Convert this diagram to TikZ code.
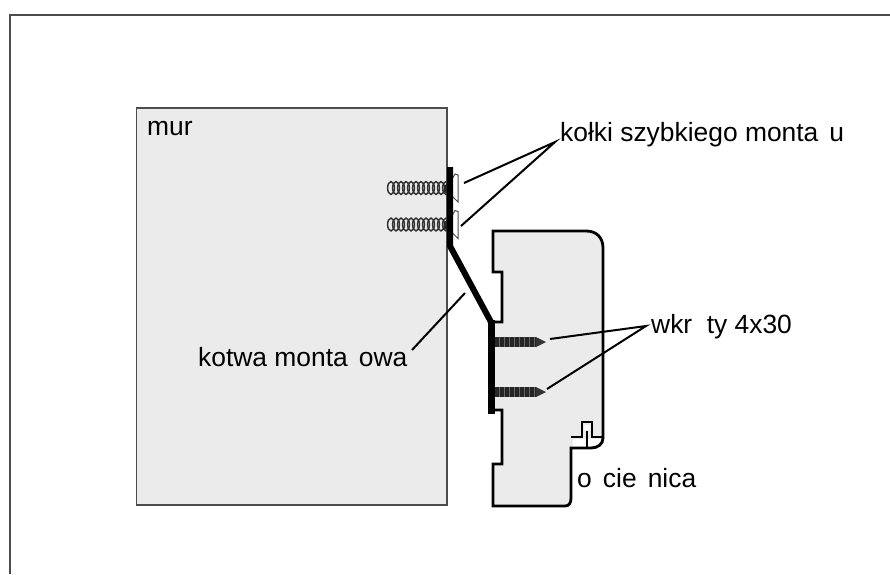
\documentclass[tikz,border=0pt]{standalone}
\usepackage{fontspec}
\setmainfont{Liberation Sans}
\usetikzlibrary{positioning}
\definecolor{wallgray}{gray}{0.92}
\tikzset{
  label/.style={inner sep=0pt, anchor=base west, font=\fontsize{26.4}{30}\selectfont},
  leader/.style={line width=2pt, black},
  anchorplate/.style={line width=6pt, black},
  outline/.style={line width=2.8pt, black, fill=wallgray, line join=miter},
}
\newcommand{\gapletter}{\hspace{0.42em}}
\begin{document}
\begin{tikzpicture}[x=1pt, y=-1pt]
    \useasboundingbox (0,0) rectangle (890,574);
    % Frame
    \draw[line width=2pt, black!70] (10,574) -- (10,14.5) -- (890,14.5);
    % Wall
    \draw[line width=1.6pt, black!70, fill=wallgray] (136.5,108) rectangle (447,505);
    % Door frame
    \draw[outline] (493,231) -- (586,231) .. controls (597,231) and (603,238) .. (603,248)
      -- (603,438) .. controls (603,444) and (598,448) .. (591,448) -- (571,448)
      -- (571,498) .. controls (571,503) and (569,506) .. (565,506) -- (493,506) -- (493,464)
      -- (502,464) -- (502,410) -- (492,410) -- (492,322) -- (502,322) -- (502,272) -- (493,272) -- cycle;
    \fill[white] (573,439) -- (601,439) .. controls (600,443) and (596,446) .. (591,446) -- (573,446) -- cycle;
    \draw[line width=2.6pt, black] (571,437) -- (582,437) -- (582,422) -- (592,422) -- (592,437) -- (603,437);
    \fill[white] (584,425) rectangle (590,430);
    \draw[line width=2pt, black] (587,431) -- (587,447);
    % Wall plugs
    \foreach \ypos in {188,224.5} {
      \foreach \xpos in {391,396,...,446}
        \draw[line width=1.5pt, black!80] (\xpos,\ypos) ellipse (3.4 and 6.4);
      \fill[black!85] (444,\ypos-2) -- (451,\ypos-8) -- (451,\ypos+8) -- (444,\ypos+4) -- cycle;
      \draw[line width=1pt, black!70] (451,\ypos-7) -- (455,\ypos-14) -- (458,\ypos-13) -- (458,\ypos+14) -- (451,\ypos+7);
    }
    % Wood screws
    \foreach \ypos in {342,392} {
      \fill[black!60] (495,\ypos-5) rectangle (536,\ypos+5);
      \draw[line width=10pt, black!85, dash pattern=on 3.6pt off 1.4pt] (495,\ypos) -- (536,\ypos);
      \fill[black!80] (536,\ypos-5) -- (541,\ypos-2.5) -- (546,\ypos) -- (541,\ypos+2.5) -- (536,\ypos+5) -- cycle;
    }
    % Anchor
    \draw[anchorplate, line join=round] (450,167) -- (450,246) -- (491,322);
    \draw[line width=7.5pt, black] (491.5,320) -- (491.5,414);
    % Labels
    \node[label] (mur) at (147,135) {mur};
    \node[label] (kolki) at (560,141) {kołki szybkiego monta\gapletter u};
    \node[label] (wkrety) at (651,333) {wkr\hspace{0.55em}ty 4x30};
    \node[label] (kotwa) at (198,366) {kotwa monta\gapletter owa};
    \node[label] (oscieznica) at (577,487) {o\gapletter cie\gapletter nica};
    % Leaders
    \coordinate (kolkitip) at (555,142);
    \coordinate (kolkiA) at (464,183);
    \coordinate (kolkiB) at (461,226);
    \coordinate (wkretytip) at (646,326);
    \coordinate (wkretyA) at (550,339);
    \coordinate (wkretyB) at (547,389);
    \coordinate (kotwaA) at (412,350);
    \coordinate (kotwaB) at (465,293);
    \draw[leader] (kolkiA) -- (kolkitip) -- (kolkiB);
    \draw[leader] (wkretyA) -- (wkretytip) -- (wkretyB);
    \draw[leader] (kotwaA) -- (kotwaB);
\end{tikzpicture}
\end{document}
